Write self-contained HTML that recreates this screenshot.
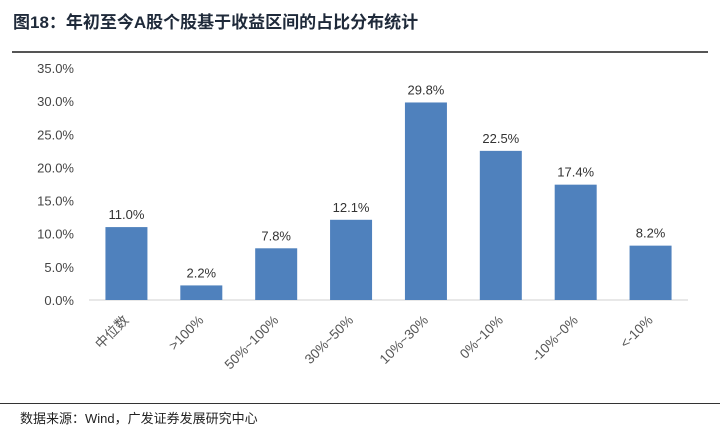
<!DOCTYPE html>
<html><head><meta charset="utf-8"><style>
body{margin:0;background:#fff;}
#wrap{position:relative;width:720px;height:430px;overflow:hidden;font-family:"Liberation Sans","Noto Sans CJK SC",sans-serif;}
#title{position:absolute;left:13px;top:8px;font-size:17px;font-weight:bold;color:#1f2a3a;}
#tline{position:absolute;left:12px;top:51px;width:696px;height:2px;background:#555;}
#fline{position:absolute;left:0;top:403px;width:720px;height:1px;background:#333;}
#foot{position:absolute;left:20px;top:408px;font-size:13px;color:#222;}
</style></head><body>
<div id="wrap">
<div id="title">图18：年初至今A股个股基于收益区间的占比分布统计</div>
<div id="tline"></div>
<svg id="svg" width="720" height="430" style="position:absolute;left:0;top:0"></svg>
<div id="fline"></div>
<div id="foot">数据来源：Wind，广发证券发展研究中心</div>
</div>
<script>
const categories=["中位数",">100%","50%~100%","30%~50%","10%~30%","0%~10%","-10%~0%","<-10%"];
const values=[11.0,2.2,7.8,12.1,29.8,22.5,17.4,8.2];
const yTicks=[0,5,10,15,20,25,30,35];
const NS="http://www.w3.org/2000/svg";
const svg=document.getElementById('svg');
const x0=89,x1=688,yZero=300,yTop=68,yMax=35;
const band=(x1-x0)/categories.length,bw=42;
function y(v){return yZero-(v/yMax)*(yZero-yTop);}
function xc(i){return x0+band*(i+0.5);}
function mk(tag,attrs,txt){const e=document.createElementNS(NS,tag);for(const k in attrs)e.setAttribute(k,attrs[k]);if(txt!==undefined)e.textContent=txt;svg.appendChild(e);return e;}
yTicks.forEach(t=>{
 const e=mk('text',{x:74,y:y(t)+5,'text-anchor':'end','font-size':13,fill:'#444','font-family':'Liberation Sans'},t.toFixed(1)+'%');
 
 
});
const ax=mk('line',{x1:x0,x2:x1,y1:yZero,y2:yZero,stroke:'#d0d0d0','stroke-width':1});


values.forEach((v,i)=>{
 const r=mk('rect',{x:xc(i)-bw/2,y:y(v),width:bw,height:yZero-y(v),fill:'#4f81bd'});
 
 
 const l=mk('text',{x:xc(i),y:y(v)-8,'text-anchor':'middle','font-size':13,fill:'#333','font-family':'Liberation Sans'},v.toFixed(1)+'%');
 
 
 const cx=xc(i)+3,cy=yZero+21;
 const c=mk('text',{x:cx,y:cy,'text-anchor':'end','font-size':13.5,fill:'#555',transform:`rotate(-45 ${cx} ${cy})`,'font-family':'Liberation Sans, Noto Sans CJK SC, sans-serif'},categories[i]);
 
 
});
</script>
</body></html>
